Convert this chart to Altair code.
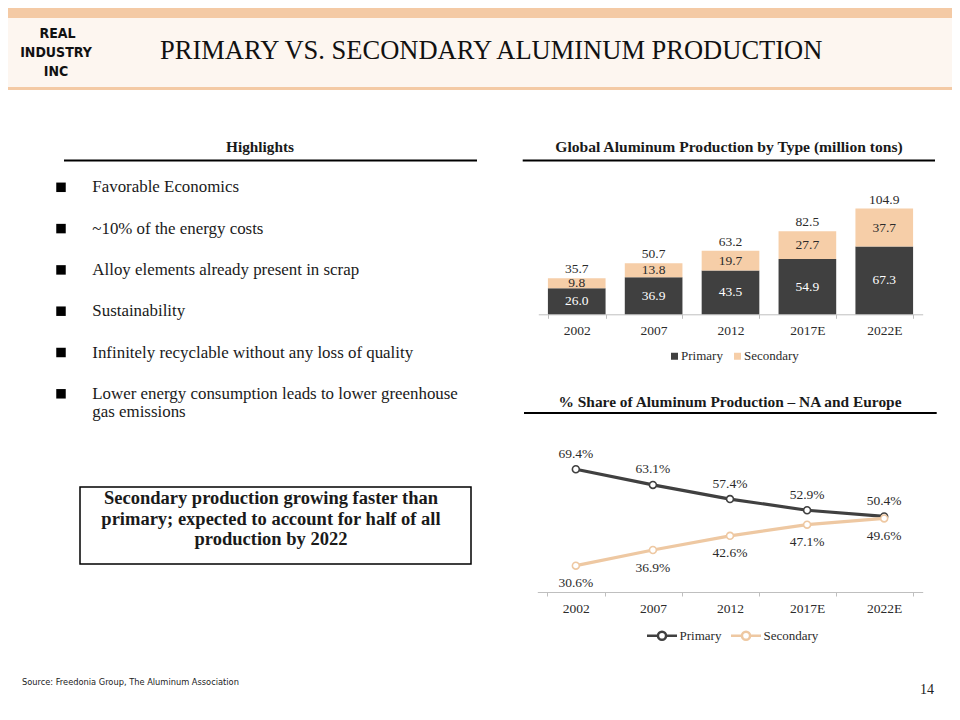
import altair as alt
import pandas as pd

# ---------------- data ----------------
years = ["2002", "2007", "2012", "2017E", "2022E"]
series = ["Primary", "Secondary"]
primary_mt = [26.0, 36.9, 43.5, 54.9, 67.3]
secondary_mt = [9.8, 13.8, 19.7, 27.7, 37.7]
total_mt = [35.7, 50.7, 63.2, 82.5, 104.9]
primary_pct = [69.4, 63.1, 57.4, 52.9, 50.4]
secondary_pct = [30.6, 36.9, 42.6, 47.1, 49.6]

slide_title = "PRIMARY VS. SECONDARY ALUMINUM PRODUCTION"
logo_lines = ["REAL", "INDUSTRY", "INC"]
highlights_title = "Highlights"
bullets = [
    ["Favorable Economics"],
    ["~10% of the energy costs"],
    ["Alloy elements already present in scrap"],
    ["Sustainability"],
    ["Infinitely recyclable without any loss of quality"],
    ["Lower energy consumption leads to lower greenhouse", "gas emissions"],
]
box_lines = [
    "Secondary production growing faster than",
    "primary; expected to account for half of all",
    "production by 2022",
]
bar_title = "Global Aluminum Production by Type (million tons)"
line_title = "% Share of Aluminum Production \u2013 NA and Europe"
source_text = "Source: Freedonia Group, The Aluminum Association"
page_no = "14"

# ---------------- style ----------------
W, H = 944, 704
OFF = 8
SERIF = "Liberation Serif, DejaVu Serif, serif"
NARROW = "DejaVu Sans Condensed, Liberation Sans, sans-serif"
DARK = "#404040"
PEACH_BAR = "#F6CEA8"
PEACH_LINE = "#EEC8A2"
PEACH_HDR = "#F4CAA5"
CREAM = "#FDF6F0"
TXT = "#1a1a1a"
LBL = "#2b2b2b"

ONE = alt.Data(values=[{"k": 0}])


def P(v):
    return v - OFF


def text(s, x, y, size=16, font=SERIF, weight="normal", align="left", color=TXT):
    return alt.Chart(ONE).mark_text(
        text=s, fontSize=size, font=font, fontWeight=weight,
        align=align, baseline="middle", color=color,
    ).encode(x=alt.value(P(x)), y=alt.value(P(y)))


def rect(x1, y1, x2, y2, fill, stroke=None, sw=1.0):
    kw = dict(fill=fill)
    if stroke:
        kw.update(stroke=stroke, strokeWidth=sw)
    return alt.Chart(ONE).mark_rect(**kw).encode(
        x=alt.value(P(x1)), x2=alt.value(P(x2)), y=alt.value(P(y1)), y2=alt.value(P(y2))
    )


def hrule(x1, x2, y, color="#000", sw=2.0):
    return alt.Chart(ONE).mark_rule(color=color, strokeWidth=sw).encode(
        x=alt.value(P(x1)), x2=alt.value(P(x2)), y=alt.value(P(y))
    )


deco = []
# header
deco.append(rect(0, 8, 960, 18, PEACH_HDR))
deco.append(rect(0, 18, 960, 87, CREAM))
deco.append(rect(0, 87, 960, 90, PEACH_HDR))
for s, (x, y) in zip(logo_lines, [(57.5, 34), (56, 52.5), (56, 72)]):
    deco.append(text(s, x, y, size=14, font=NARROW, weight="bold", align="center", color="#111"))
deco.append(text(slide_title, 160, 51, size=26.5, color="#111"))

# highlights
deco.append(text(highlights_title, 260, 147, size=15.3, weight="bold", align="center"))
deco.append(hrule(64, 477, 160.5, sw=2))
by = 187.3
for lines in bullets:
    deco.append(
        alt.Chart(ONE).mark_square(size=90, color="#000", opacity=1).encode(
            x=alt.value(P(61)), y=alt.value(P(by))
        )
    )
    for j, ln in enumerate(lines):
        deco.append(text(ln, 92.3, by + j * 17.7, size=16.9))
    by += 41.3

# callout box
deco.append(rect(80, 487, 471, 564, "white", stroke="#000", sw=1.5))
for j, ln in enumerate(box_lines):
    deco.append(text(ln, 271, 498 + j * 20.5, size=18.5, weight="bold", align="center"))

# chart titles
deco.append(text(bar_title, 729, 146.5, size=15.6, weight="bold", align="center"))
deco.append(hrule(522.7, 935, 160.5, sw=2))
deco.append(text(line_title, 730, 402, size=15.4, weight="bold", align="center"))
deco.append(hrule(524, 936.7, 413, sw=2))

# footer
deco.append(text(source_text, 22, 682, size=9.2, font=NARROW, color="#222"))
deco.append(text(page_no, 934, 690, size=14, align="right", color="#222"))

# ---------------- bar chart ----------------
bar_df = pd.DataFrame({
    "year": years * 2,
    "type": [series[0]] * 5 + [series[1]] * 5,
    "value": primary_mt + secondary_mt,
    "order": [0] * 5 + [1] * 5,
})
tot_df = pd.DataFrame({"year": years, "total": total_mt})

axis_common = dict(
    orient="bottom", title=None, labelAngle=0, tickBand="extent", grid=False,
    domainColor="#BFBFBF", tickColor="#BFBFBF", tickSize=4, labelPadding=5,
    labelFont=SERIF, labelFontSize=13.5, labelColor=LBL,
)
xs_bar = alt.Scale(domain=years, range=[P(538.3), P(922.7)], paddingInner=0.25, paddingOuter=0.125)
ys_bar = alt.Scale(domain=[0, 105], range=[P(314.3), P(314.3 - 105.7)], nice=False)

xb = alt.X("year:N", sort=years, scale=xs_bar, axis=alt.Axis(offset=P(314.3) - H, **axis_common))
xb_plain = alt.X("year:N", sort=years, scale=xs_bar)

bars = alt.Chart(bar_df).mark_bar().encode(
    x=xb,
    y=alt.Y("value:Q", stack="zero", scale=ys_bar, axis=None),
    color=alt.Color(
        "type:N",
        scale=alt.Scale(domain=series, range=[DARK, PEACH_BAR]),
        legend=alt.Legend(
            orient="none", legendX=P(668), legendY=P(349.5), direction="horizontal",
            title=None, symbolType="square", symbolSize=49, symbolStrokeWidth=0,
            labelFont=SERIF, labelFontSize=13, labelColor=LBL, labelOffset=0,
            columnPadding=8, padding=0,
        ),
    ),
    order=alt.Order("order:Q"),
)
seg_labels = alt.Chart(bar_df).transform_stack(
    stack="value", groupby=["year"], as_=["v0", "v1"], sort=[alt.SortField("order")]
).transform_calculate(mid="(datum.v0 + datum.v1) / 2").mark_text(
    font=SERIF, fontSize=13.5, baseline="middle"
).encode(
    x=xb_plain,
    y=alt.Y("mid:Q", scale=ys_bar, axis=None),
    text=alt.Text("value:Q", format=".1f"),
    color=alt.condition("datum.type == 'Primary'", alt.value("white"), alt.value(LBL)),
)
tot_labels = alt.Chart(tot_df).mark_text(
    font=SERIF, fontSize=13.5, baseline="middle", dy=-9, color=LBL
).encode(
    x=xb_plain,
    y=alt.Y("total:Q", scale=ys_bar, axis=None),
    text=alt.Text("total:Q", format=".1f"),
)
bar_group = alt.layer(bars, seg_labels, tot_labels)

# ---------------- line chart ----------------
line_df = pd.DataFrame({
    "year": years * 2,
    "type": [series[0]] * 5 + [series[1]] * 5,
    "pct": primary_pct + secondary_pct,
})
xs_line = alt.Scale(domain=years, range=[P(537.3), P(922.7)], paddingInner=0.25, paddingOuter=0.125)
ys_line = alt.Scale(domain=[20, 80], range=[P(592), P(592 - 60 * 2.485)], nice=False, zero=False)
xl = alt.X("year:N", sort=years, scale=xs_line, bandPosition=0.5,
           axis=alt.Axis(offset=P(592) - H, **axis_common))
xl_plain = alt.X("year:N", sort=years, scale=xs_line, bandPosition=0.5)
yl = alt.Y("pct:Q", scale=ys_line, axis=None)
stroke_enc = alt.Stroke(
    "type:N",
    scale=alt.Scale(domain=series, range=[DARK, PEACH_LINE]),
    legend=alt.Legend(
        orient="none", legendX=P(645.5), legendY=P(634 - 15), direction="horizontal",
        title=None,
        symbolType="M-1,0H-0.28M0.28,0H1M0.27,0A0.27,0.27 0 1,1 -0.27,0A0.27,0.27 0 1,1 0.27,0Z",
        symbolSize=900, symbolStrokeWidth=2.5, symbolFillColor="white",
        labelFont=SERIF, labelFontSize=13, labelColor=LBL, labelOffset=1,
        columnPadding=4, padding=0,
    ),
)
lines = alt.Chart(line_df).mark_line(strokeWidth=3.2).encode(x=xl, y=yl, stroke=stroke_enc)
pts = alt.Chart(line_df).mark_point(
    shape="circle", filled=True, fill="white", size=48, strokeWidth=1.6, opacity=1
).encode(x=xl_plain, y=yl, stroke=alt.Stroke("type:N", scale=alt.Scale(domain=series, range=[DARK, PEACH_LINE])))
lab_base = alt.Chart(line_df).transform_calculate(
    lab="format(datum.pct, '.1f') + '%'"
)
lab_p = lab_base.transform_filter("datum.type == 'Primary'").mark_text(
    font=SERIF, fontSize=13.5, baseline="middle", dy=-15.5, color=LBL
).encode(x=xl_plain, y=yl, text="lab:N")
lab_s = lab_base.transform_filter("datum.type == 'Secondary'").mark_text(
    font=SERIF, fontSize=13.5, baseline="middle", dy=17.5, color=LBL
).encode(x=xl_plain, y=yl, text="lab:N")
line_group = alt.layer(lines, pts, lab_p, lab_s)

chart = alt.layer(*deco, bar_group, line_group).resolve_scale(
    x="independent", y="independent", color="independent", stroke="independent"
).resolve_axis(x="independent").resolve_legend(
    color="independent", stroke="independent"
).properties(
    width=W, height=H, autosize=alt.AutoSizeParams(type="none"), padding=0, background="white"
).configure_view(stroke=None)

chart.save("out.html", embed_options={"renderer": "svg", "actions": False})
